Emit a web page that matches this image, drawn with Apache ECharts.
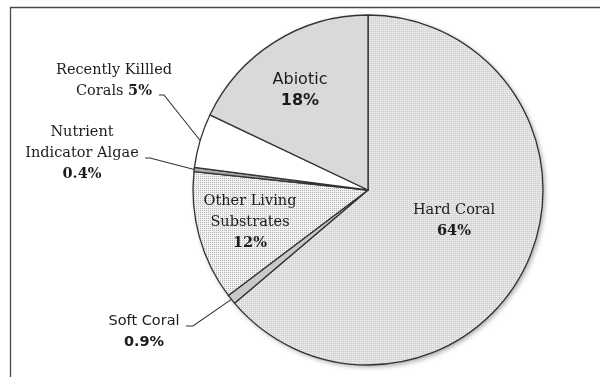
<!DOCTYPE html>
<html><head><meta charset="utf-8">
<script src="https://cdn.jsdelivr.net/npm/echarts@6/dist/echarts.min.js"></script>
<style>html,body{margin:0;padding:0;background:#fff}#c{width:600px;height:377px}</style>
</head><body><div id="c"></div>
<script>
// ---- data ----
const categories = ['Hard Coral', 'Soft Coral', 'Other Living Substrates', 'Nutrient Indicator Algae', 'Recently Killled Corals', 'Abiotic'];
const values = [64, 0.9, 12, 0.4, 5, 18];
const pctLabels = ['64%', '0.9%', '12%', '0.4%', '5%', '18%'];
const nameLines = [['Hard Coral'], ['Soft Coral'], ['Other Living', 'Substrates'], ['Nutrient', 'Indicator Algae'], ['Recently Killled', 'Corals'], ['Abiotic']];
const pctInline = [false, false, false, false, true, false];
const labelFont = ['serif', 'sans', 'serif', 'serif', 'serif', 'sansL'];
const outsideLabel = [false, true, false, true, true, false];

// ---- layout (positions, not data) ----
const CENTER = [368, 190], RADIUS = 175;
const labelPos = [[454, 221], [144, 332], [250, 222], [82, 153], [114, 81], [300, 90]];
const lineEnds = { 1: [[193, 326], [186, 326]], 3: [[150, 158], [145, 158]], 4: [[164, 95], [159, 95]] };

function pattern(bg, dot, step) {
  const c = document.createElement('canvas');
  c.width = step; c.height = step;
  const g = c.getContext('2d');
  g.fillStyle = bg; g.fillRect(0, 0, step, step);
  g.fillStyle = dot; g.fillRect(0, 0, 1, 1);
  return c;
}
const fills = [
  { image: pattern('#d8d8d8', '#f2f2f2', 2), repeat: 'repeat' },
  '#c9c9c9',
  { image: pattern('#f2f2f2', '#b4b4b4', 2), repeat: 'repeat' },
  '#a8a8a8',
  '#ffffff',
  '#d9d9d9'
];

const styleKeys = { serif: ['n', 'b'], sans: ['sn', 'sb'], sansL: ['ln', 'lb'] };
function fmt(i) {
  const [n, b] = styleKeys[labelFont[i]];
  const lines = nameLines[i].map(t => '{' + n + '|' + t + '}');
  if (pctInline[i]) lines[lines.length - 1] += '{' + n + '| }{' + b + '|' + pctLabels[i] + '}';
  else lines.push('{' + b + '|' + pctLabels[i] + '}');
  return lines.join('\n');
}

const serif = 'DejaVu Serif', sans = 'DejaVu Sans', ink = '#1c1c1c';
const rich = {
  n: { fontFamily: serif, fontSize: 14.5, color: ink, lineHeight: 21 },
  b: { fontFamily: serif, fontSize: 14.5, fontWeight: 'bold', color: ink, lineHeight: 21 },
  sn: { fontFamily: sans, fontSize: 14.5, color: ink, lineHeight: 21 },
  sb: { fontFamily: sans, fontSize: 14.5, fontWeight: 'bold', color: ink, lineHeight: 21 },
  ln: { fontFamily: sans, fontSize: 16, color: ink, lineHeight: 21 },
  lb: { fontFamily: sans, fontSize: 16, fontWeight: 'bold', color: ink, lineHeight: 21 }
};

const data = categories.map((name, i) => ({
  name, value: values[i],
  itemStyle: { color: fills[i] },
  label: { position: outsideLabel[i] ? 'outside' : 'inside', formatter: fmt(i), rich, align: 'center' },
  labelLine: { show: outsideLabel[i] }
}));

const chart = echarts.init(document.getElementById('c'), null, { renderer: 'canvas' });
chart.setOption({
  backgroundColor: '#fff',
  animation: false,
  graphic: [{ type: 'rect', left: 8, top: 5, shape: { width: 620, height: 400 }, style: { fill: 'none', stroke: '#4a4a4a', lineWidth: 1.3 }, silent: true }],
  series: [
    {
      type: 'pie', silent: true, center: CENTER, radius: RADIUS, z: 1,
      label: { show: false }, labelLine: { show: false },
      data: [{ value: 1, itemStyle: { color: '#ddd', shadowBlur: 5, shadowOffsetX: 2, shadowOffsetY: 2, shadowColor: 'rgba(0,0,0,0.35)' } }]
    },
    {
      type: 'pie', center: CENTER, radius: RADIUS, startAngle: 90, clockwise: true, z: 2,
      avoidLabelOverlap: false, minShowLabelAngle: 0,
      itemStyle: { borderColor: '#333', borderWidth: 1.3 },
      labelLine: { lineStyle: { color: '#333', width: 1.1 }, length: 10, length2: 10 },
      labelLayout: function (p) {
        const i = p.dataIndex;
        const res = { x: labelPos[i][0], y: labelPos[i][1], align: 'center', verticalAlign: 'middle' };
        if (lineEnds[i] && p.labelLinePoints) {
          res.labelLinePoints = [p.labelLinePoints[0], lineEnds[i][0], lineEnds[i][1]];
        }
        return res;
      },
      data
    }
  ]
});
</script></body></html>
